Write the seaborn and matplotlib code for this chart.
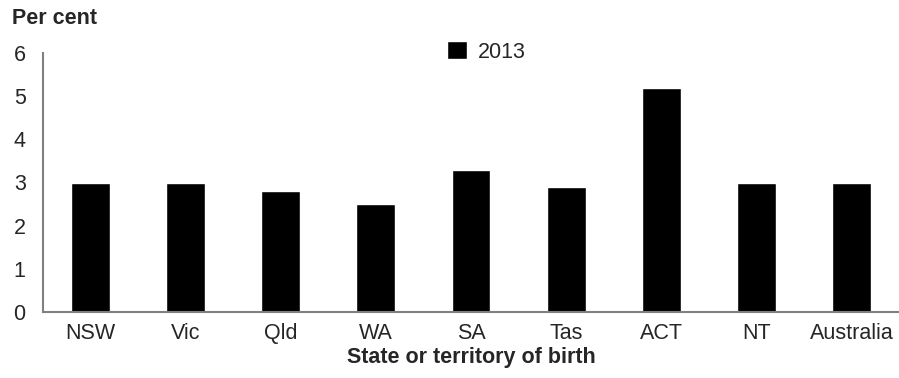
import matplotlib
matplotlib.use("Agg")
import matplotlib.pyplot as plt
import seaborn as sns
import pandas as pd

# dados
states = ["NSW", "Vic", "Qld", "WA", "SA", "Tas", "ACT", "NT", "Australia"]
values_2013 = [3.0, 3.0, 2.8, 2.5, 3.3, 2.9, 5.2, 3.0, 3.0]

df = pd.DataFrame({"state": states, "value": values_2013, "year": "2013"})

sns.set_style("white")
plt.rcParams['font.family'] = ['Liberation Sans', 'DejaVu Sans']

fs = 15.5

fig = plt.figure(figsize=(8.99, 3.78), dpi=100)
ax = fig.add_axes([43/899, 1-312/378, 1-43/899, (312-53)/378])

sns.barplot(data=df, x="state", y="value", hue="year", palette=["black"],
            width=0.41, ax=ax, saturation=1)

ax.set_ylim(0, 6)
ax.set_yticks(range(0, 7))
ax.set_xlim(-0.5, 8.5)

for s in ["top", "right"]:
    ax.spines[s].set_visible(False)
ax.spines["left"].set_color("#808080")
ax.spines["bottom"].set_color("#808080")
ax.spines["left"].set_linewidth(1.5)
ax.spines["bottom"].set_linewidth(1.5)

ax.tick_params(axis="y", direction="out", length=4.5, color="#808080", width=1.5,
               labelsize=fs, pad=8)
ax.tick_params(axis="x", length=0, labelsize=fs, pad=8)

ax.set_ylabel("")
ax.set_xlabel("State or territory of birth", fontsize=fs, fontweight="bold", labelpad=2)
fig.text(12/899, 1-18/378, "Per cent", fontsize=fs, fontweight="bold", va="center")

leg = ax.legend(loc="upper center", bbox_to_anchor=(0.518, 1.12), frameon=False,
                fontsize=fs, handlelength=0.9, handleheight=0.9, handletextpad=0.5)

fig.savefig("out.png", dpi=100)
